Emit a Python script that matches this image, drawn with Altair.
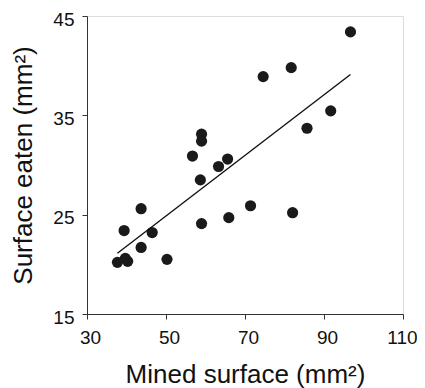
import altair as alt
import pandas as pd

mined = [96.7, 81.7, 74.6, 91.7, 85.7, 59.0, 59.0, 56.7, 65.6, 63.3, 58.7,
         71.4, 43.7, 82.05, 65.9, 59.0, 39.4, 46.5, 43.7, 50.25, 37.7, 39.7, 40.3]
eaten = [43.4, 39.8, 38.9, 35.45, 33.7, 33.1, 32.4, 30.9, 30.6, 29.85, 28.5,
         25.9, 25.6, 25.2, 24.7, 24.1, 23.4, 23.2, 21.7, 20.5, 20.2, 20.6, 20.3]
x_ticks = [30, 50, 70, 90, 110]
y_ticks = [15, 25, 35, 45]

df = pd.DataFrame({"mined": mined, "eaten": eaten})

FONT = "Liberation Sans"

xenc = alt.X("mined:Q", scale=alt.Scale(domain=[30, 110], nice=False, zero=False),
             axis=alt.Axis(values=x_ticks, title="Mined surface (mm²)", grid=False,
                           tickSize=5, labelPadding=9, titlePadding=14,
                           labelOffset={"condition": {"test": "datum.value >= 110", "value": -1}, "value": 3},
                           labelFontSize=19, titleFontSize=26, titleFontWeight="normal",
                           labelFont=FONT, titleFont=FONT, labelColor="#111", titleColor="#111",
                           domainColor="#333", tickColor="#333", labelFlush=False))
yenc = alt.Y("eaten:Q", scale=alt.Scale(domain=[15, 45], nice=False, zero=False),
             axis=alt.Axis(values=y_ticks, title="Surface eaten (mm²)", grid=False,
                           tickSize=5, labelPadding=8, titlePadding=16, labelOffset=3,
                           labelFontSize=19, titleFontSize=26, titleFontWeight="normal",
                           labelFont=FONT, titleFont=FONT, labelColor="#111", titleColor="#111",
                           domainColor="#333", tickColor="#333", labelFlush=False))

base = alt.Chart(df)
points = base.mark_circle(size=125, color="#1a1a1a", opacity=1).encode(x=xenc, y=yenc)
line = base.transform_regression("mined", "eaten").mark_line(color="#111", strokeWidth=1.4).encode(
    x="mined:Q", y="eaten:Q")

chart = (points + line).properties(
    width=316, height=298,
    autosize=alt.AutoSizeParams(type="none"),
    padding={"left": 79, "top": 8, "right": 14, "bottom": 82},
).configure_view(stroke=None).configure(background="white")

chart.save("out.html", embed_options={"renderer": "svg", "actions": False})
